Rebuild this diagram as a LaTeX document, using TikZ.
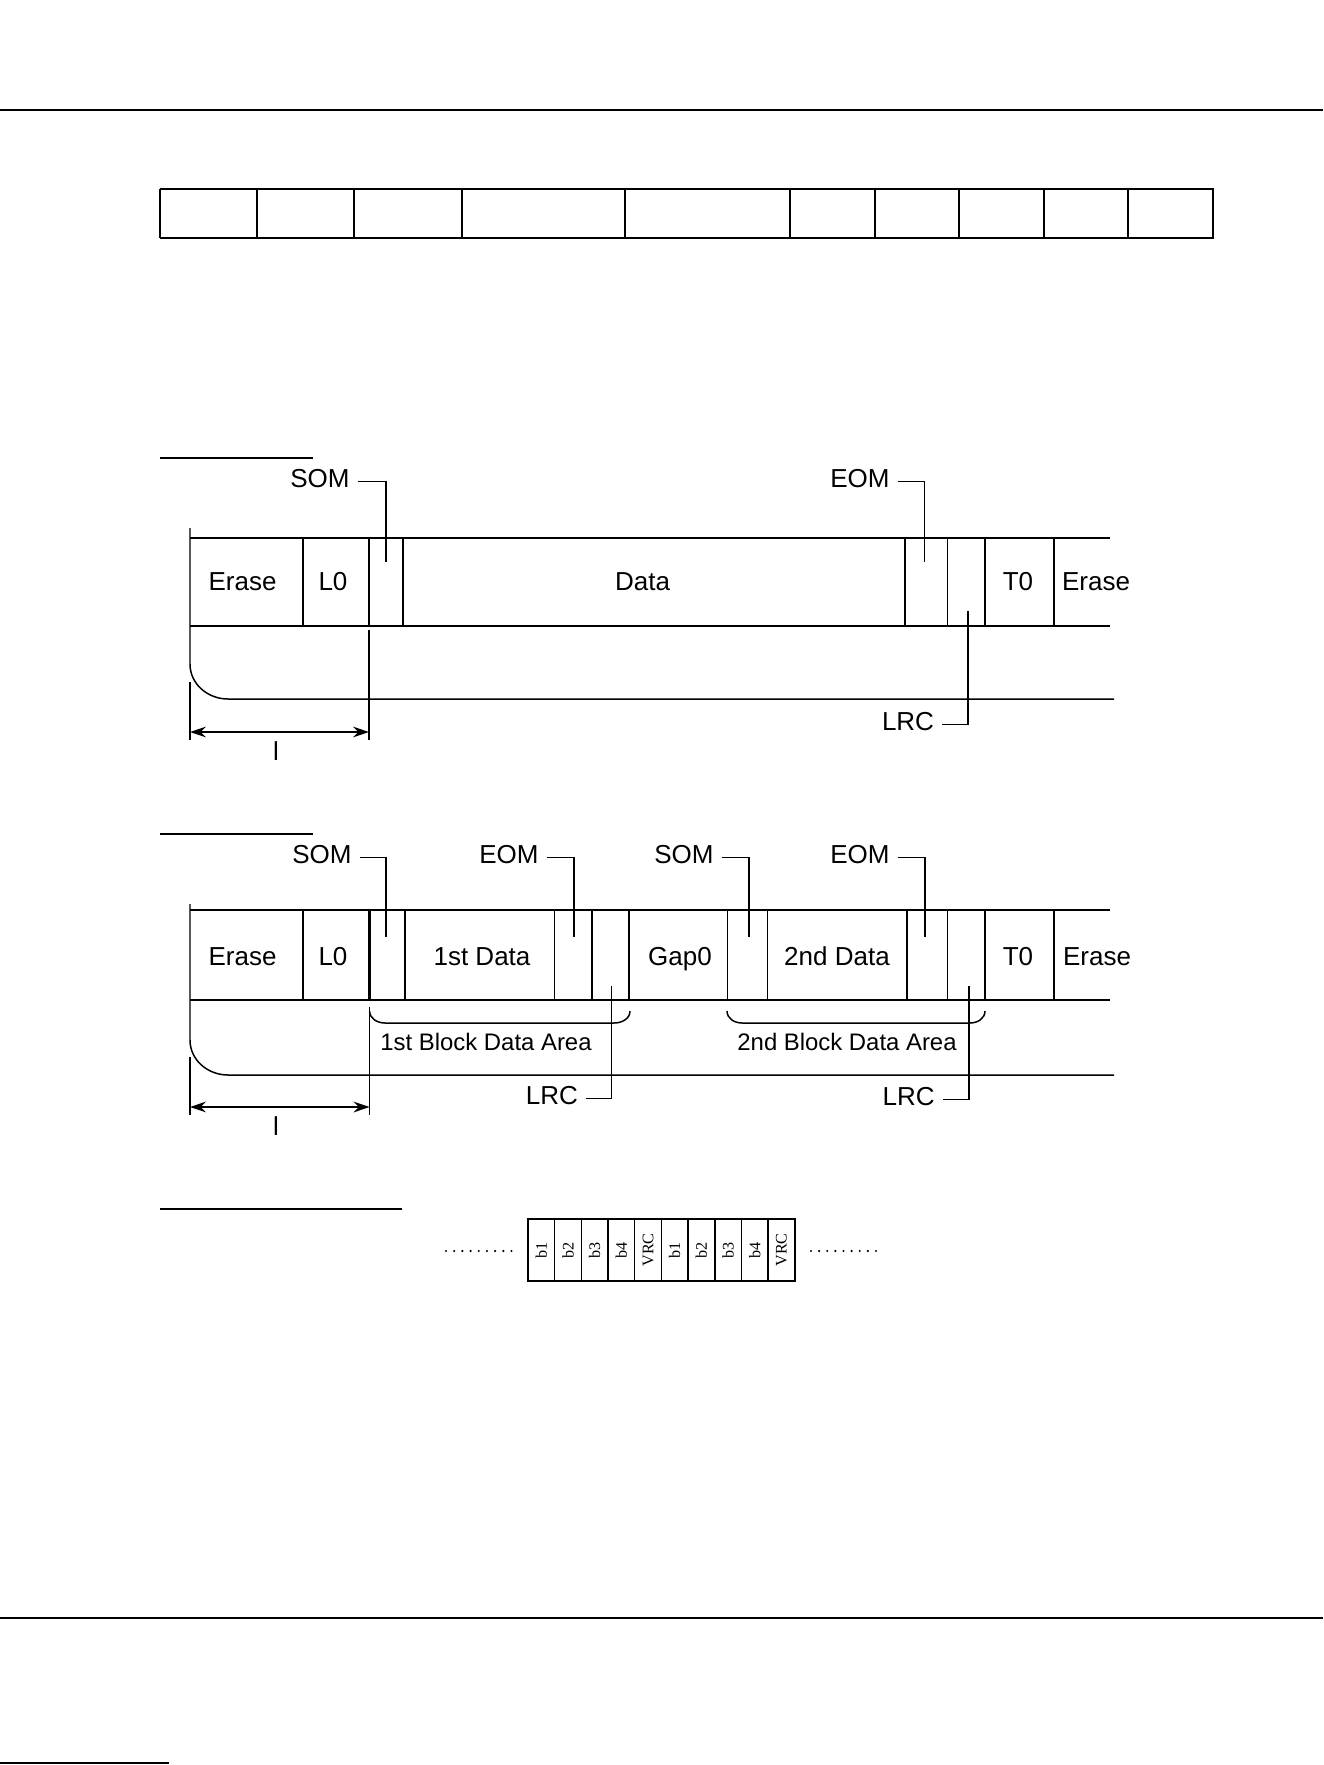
\documentclass[tikz,border=0pt]{standalone}
\usepackage{fontspec}
\setmainfont{Liberation Serif}
\setsansfont{Liberation Sans}
\usetikzlibrary{arrows.meta}
\tikzset{
  trk/.style     = {line width=0.85pt},
  trkbold/.style = {line width=1.5pt},
  pgrule/.style  = {line width=1.1pt},
  ldr/.style     = {line width=0.85pt},
  lbl/.style     = {font=\sffamily\fontsize{14.8}{17}\selectfont, inner sep=4.5pt,
                    text height=0.72em, text depth=0pt, yshift=-1.5pt},
  arealbl/.style = {font=\sffamily\fontsize{13.6}{16}\selectfont, inner sep=0pt,
                    text height=0.72em, text depth=0pt, yshift=-0.8pt},
  dimarr/.style  = {{Stealth[length=9pt, width=6pt]}-{Stealth[length=9pt, width=6pt]},
                    line width=1.6pt},
  bitlab/.style  = {font=\fontsize{9.2}{10}\selectfont, rotate=90, inner sep=0pt},
}
\begin{document}
\begin{tikzpicture}[x=0.02cm, y=-0.02cm]
  \useasboundingbox (0,0) rectangle (1323,1765);
  \draw[pgrule] (0,110) -- (1323,110);
  \draw[pgrule] (0,1618) -- (1323,1618);
  \draw[line width=1.4pt] (0,1763) -- (169,1763);
  \draw[trk] (160,189) -- (160,238);
  \draw[line width=1.2pt] (160,189) -- (1213,189) -- (1213,238) -- (160,238);
  \foreach \xc in {257,354,462,625,790,875,959,1044,1128}
    \draw[trk] (\xc,189) -- (\xc,238);
  \draw[trk] (160,458) -- (313,458);
  \draw[trk] (190,528) -- (190,664) to[out=-90, in=180] (228,699) -- (1114,699);
  \draw[trk] (190,538) -- (1110,538);
  \draw[trk] (190,626) -- (1110,626);
  \foreach \xc in {303,369,403,905,947.5,985,1054}
    \draw[trk] (\xc,538) -- (\xc,626);
  \node[lbl] (era1) at (242.6,582) {Erase};
  \node[lbl] (lz1) at (333,582) {L0};
  \node[lbl] (dat1) at (642.5,582) {Data};
  \node[lbl] (tz1) at (1018,582) {T0};
  \node[lbl] (erb1) at (1096,582) {Erase};
  \coordinate (som1c) at (386,562);
  \coordinate (eom1c) at (924.5,562);
  \coordinate (lrc1c) at (968,611);
  \node[lbl] (som1) at (320,479) {SOM};
  \node[lbl] (eom1) at (860,479) {EOM};
  \node[lbl] (lrc1) at (908,722) {LRC};
  \draw[ldr] (som1.east) -| (som1c);
  \draw[ldr] (eom1.east) -| (eom1c);
  \draw[ldr] (lrc1.east) -| (lrc1c);
  \coordinate (dl1a) at (190,682);
  \coordinate (dl1b) at (190,740);
  \coordinate (dr1a) at (369,630);
  \coordinate (dr1b) at (369,740);
  \draw[trk] (dl1a) -- (dl1b);
  \draw[trk] (dr1a) -- (dr1b);
  \draw[dimarr] (190,732) -- (369,732);
  \node[lbl] (len1) at (276,752) {l};
  \draw[trk] (160,834) -- (313,834);
  \draw[trk] (190,904) -- (190,1040) to[out=-90, in=180] (228,1075) -- (1114,1075);
  \draw[trk] (190,910) -- (1110,910);
  \draw[trk] (190,1000) -- (1110,1000);
  \foreach \xc in {303,405,554.5,592,629,727.5,767.5,907,947.5,985,1054}
    \draw[trk] (\xc,910) -- (\xc,1000);
  \draw[trkbold] (369.6,910) -- (369.6,1000);
  \node[lbl] (era2) at (242.6,957) {Erase};
  \node[lbl] (lz2) at (333,957) {L0};
  \node[lbl] (dat2a) at (482,957) {1st Data};
  \node[lbl] (gap2) at (680,957) {Gap0};
  \node[lbl] (dat2b) at (837,957) {2nd Data};
  \node[lbl] (tz2) at (1018,957) {T0};
  \node[lbl] (erb2) at (1097,957) {Erase};
  \coordinate (som2ac) at (386,937);
  \coordinate (eom2ac) at (574,937);
  \coordinate (som2bc) at (749,937);
  \coordinate (eom2bc) at (925,937);
  \coordinate (lrc2ac) at (611.5,986);
  \coordinate (lrc2bc) at (969,986);
  \node[lbl] (som2a) at (322,855) {SOM};
  \node[lbl] (eom2a) at (509,855) {EOM};
  \node[lbl] (som2b) at (684,855) {SOM};
  \node[lbl] (eom2b) at (860,855) {EOM};
  \node[lbl] (lrc2a) at (552,1096) {LRC};
  \node[lbl] (lrc2b) at (908.6,1097) {LRC};
  \draw[ldr] (som2a.east) -| (som2ac);
  \draw[ldr] (eom2a.east) -| (eom2ac);
  \draw[ldr] (som2b.east) -| (som2bc);
  \draw[ldr] (eom2b.east) -| (eom2bc);
  \draw[ldr] (lrc2a.east) -| (lrc2ac);
  \draw[ldr] (lrc2b.east) -| (lrc2bc);
  \draw[trk] (369.6,1011) to[out=-90, in=180] (385,1023) -- (614,1023) to[out=0, in=-90] (630,1011);
  \draw[trk] (727,1011) to[out=-90, in=180] (742,1023) -- (970,1023) to[out=0, in=-90] (985,1011);
  \node[arealbl] (blk2a) at (486,1043) {1st Block Data Area};
  \node[arealbl] (blk2b) at (847,1043) {2nd Block Data Area};
  \coordinate (dl2a) at (190,1057);
  \coordinate (dl2b) at (190,1115);
  \coordinate (dr2a) at (369.6,1007);
  \coordinate (dr2b) at (369.6,1115);
  \draw[trk] (dl2a) -- (dl2b);
  \draw[trk] (dr2a) -- (dr2b);
  \draw[dimarr] (190,1107) -- (369.6,1107);
  \node[lbl] (len2) at (276,1127) {l};
  \draw[trk] (160,1209) -- (402,1209);
  \draw[trk] (528,1219) rectangle (795,1281);
  \foreach \i/\t in {0/b1,1/b2,2/b3,3/b4,4/VRC,5/b1,6/b2,7/b3,8/b4,9/VRC} {
    \node[bitlab] (bit\i) at (541.3+\i*26.68,1250) {\t};
    \draw[trk] (528+\i*26.68,1219) -- (528+\i*26.68,1281);
  }
  \foreach \i in {0,3,6,9}
    \draw[trkbold] (528+\i*26.68,1219) -- (528+\i*26.68,1281);
  \draw[trkbold] (528,1219) -- (795,1219);
  \foreach \i in {0,...,8} {
    \fill (446+\i*8.19,1251) circle (1.2);
    \fill (811+\i*8.12,1251) circle (1.2);
  }
\end{tikzpicture}
\end{document}
